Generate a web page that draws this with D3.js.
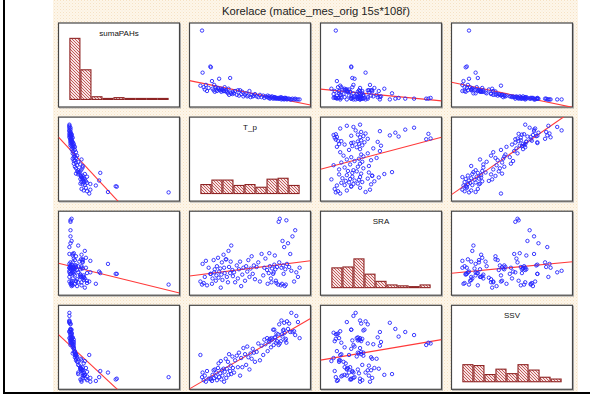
<!DOCTYPE html>
<html><head><meta charset="utf-8">
<script src="https://cdn.jsdelivr.net/npm/d3@7"></script>
<style>html,body{margin:0;padding:0;background:#fff;} svg{display:block;}</style>
</head><body>
<svg id="c" width="590" height="394"></svg>
<script>
const title = "Korelace (matice_mes_orig 15s*108ř)";
const varNames = ["sumaPAHs", "T_p", "SRA", "SSV"];

const sumaPAHs = [18,90,35,16,13,19,11,15,43,42,
  24,14,12,19,10,16,13,11,15,13,27,12,14,10,12,
  13,11,11,16,10.5,12,10,8,14,6,28,9,8,7,10,
  8,11,6,12,5,12,7,10,4,
  6,8,4,5,11,3,6,4,5,7,
  4,3,6,3,5,2,4,
  3,5,2,4,1,3,2,4,1,3,2,3,1,2,2,1,
  2,1,1,2,3,0,1,2,1,1,0,2,1,2,1,0,1,
  1,0,0,1,0,1,0,0,0];

const T_p = [0,1.5,2,3,4,5,6,7.5,9,9.5,
  10.5,11,12,12.5,13,14,14.5,15,16,16.5,17,18,18.5,19,19.5,
  20,21,21.5,22,23,23.5,24,25,25.5,26,27,27.5,28,29,29.5,
  30.5,31.5,33,34,35,36,37,38,39,
  40.5,41.5,42.5,43.5,44.5,45.5,46.5,47.5,48.5,49.5,
  51,52.5,54,55.5,57,58,59,
  60.5,61,62,62.5,63,64,64.5,65,66,66.5,67,67.5,68,68.5,69,69.5,
  70.5,71,71.5,72,73,73.5,74,74.5,75,75.5,76,76.5,77,77.5,78,78.5,79.5,
  80.5,81.5,82.5,83.5,85,86,87,88.5,90];

const SRA = [8,4,31,6,14,35,3,26,18,18,
  5,12,36,20,24,9,16,28,39,13,21,25,0,17,33,
  10,43,26,19,37,37,14,7,48,27,19,34,55,23,15,
  20,7,29,12,24,34,2,17,26,
  9,28,21,36,14,25,41,18,29,11,
  27,33,8,44,16,26,38,
  23,5,19,45,28,12,7,25,18,20,30,42,24,9,6,27,
  4,86,33,90,3,26,5,61,29,18,53,2,24,4,88,31,58,
  27,44,22,67,8,75,20,14,26];

const SSV = [35,6,12,2,8,0,14,4,4,3,
  1,9,15,5,16,7,12,2,18,24,6,11,27,3,15,
  8,17,0,13,30,5,17,26,9,36,14,21,10,33,18,
  12,28,34,19,38,8,31,19,44,
  36,22,46,32,16,37,30,43,38,26,
  39,50,28,47,35,55,49,
  57,40,54,52,56,45,57,55,68,48,68,58,58,51,63,53,
  62,48,75,50,53,80,62,59,67,68,77,64,54,56,51,79,69,
  76,65,90,65,66,61,86,78,57];

const nBins = 9;
const series = [sumaPAHs, T_p, SRA, SSV];
const N = sumaPAHs.length;

const svg = d3.select("#c");
const defs = svg.append("defs");

const bg = defs.append("pattern").attr("id","bgdots").attr("patternUnits","userSpaceOnUse")
  .attr("width",3).attr("height",3);
bg.append("rect").attr("width",3).attr("height",3).attr("fill","#fdf6ea");
bg.append("rect").attr("x",0).attr("y",0).attr("width",1).attr("height",1).attr("fill","#f6e2c4");
bg.append("rect").attr("x",1.5).attr("y",1.5).attr("width",1).attr("height",1).attr("fill","#f9ead4");

const hatch = defs.append("pattern").attr("id","hatch").attr("patternUnits","userSpaceOnUse")
  .attr("width",3).attr("height",3);
hatch.append("rect").attr("width",3).attr("height",3).attr("fill","#f6e4e4");
hatch.append("path").attr("d","M0,0L3,3M-1,2L1,4M2,-1L4,1")
  .attr("stroke","#c45a5a").attr("stroke-width",1);

svg.append("rect").attr("x",53).attr("y",0).attr("width",525).attr("height",392).attr("fill","url(#bgdots)");

svg.append("rect").attr("x",3).attr("y",0).attr("width",2).attr("height",394).attr("fill","#000");
svg.append("rect").attr("x",3).attr("y",392).attr("width",587).attr("height",2).attr("fill","#000");

svg.append("text").attr("x",316).attr("y",15).attr("text-anchor","middle")
  .attr("font-family","'Liberation Sans', Arial, sans-serif").attr("font-size",11.2)
  .attr("fill","#222").text(title);

const colBand = d3.scaleBand().domain(d3.range(4)).range([58.5, 572.5]).paddingInner(10/131);
const rowBand = d3.scaleBand().domain(d3.range(4)).range([23, 389.3]).paddingInner(10.1/94.1);
const pw = colBand.bandwidth(), ph = rowBand.bandwidth();

const extents = series.map(s => d3.extent(s));
const xScale = j => d3.scaleLinear().domain(extents[j])
  .range([colBand(j) + 0.09*pw, colBand(j) + 0.91*pw]);
const yScale = i => d3.scaleLinear().domain(extents[i])
  .range([rowBand(i) + ph - 0.09*ph, rowBand(i) + 0.09*ph]);

function regression(xs, ys) {
  const mx = d3.mean(xs), my = d3.mean(ys);
  let sxy = 0, sxx = 0;
  for (let k = 0; k < xs.length; k++) { sxy += (xs[k]-mx)*(ys[k]-my); sxx += (xs[k]-mx)**2; }
  const b = sxy/sxx;
  return {a: my - b*mx, b};
}

for (let i = 0; i < 4; i++) {
  for (let j = 0; j < 4; j++) {
    const x0 = colBand(j), y0 = rowBand(i);
    const g = svg.append("g");
    const clipId = `clip-${i}-${j}`;
    defs.append("clipPath").attr("id", clipId).append("rect")
      .attr("x", x0).attr("y", y0).attr("width", pw).attr("height", ph);
    g.append("rect").attr("x", x0+1).attr("y", y0+1).attr("width", pw).attr("height", ph)
      .attr("fill","none").attr("stroke","#b0b0b0").attr("stroke-width",1);
    g.append("rect").attr("x", x0).attr("y", y0).attr("width", pw).attr("height", ph)
      .attr("fill","#fff").attr("stroke","#454545").attr("stroke-width",1.2);
    const inner = g.append("g").attr("clip-path", `url(#${clipId})`);
    const xs = xScale(j);
    if (i === j) {
      const [mn, mx] = extents[j];
      const thresholds = d3.range(1, nBins).map(k => mn + k*(mx-mn)/nBins);
      const bins = d3.bin().domain([mn, mx]).thresholds(thresholds)(series[j]);
      const base = yScale(i)(mn);
      const hScale = d3.scaleLinear().domain([0, N]).range([0, 97]);
      inner.selectAll("rect.bar").data(bins).join("rect").attr("class","bar")
        .attr("x", d => xs(d.x0) + 0.5)
        .attr("width", d => Math.max(0, xs(d.x1) - xs(d.x0) - 1))
        .attr("y", d => base - Math.max(1, hScale(d.length)))
        .attr("height", d => Math.max(1, hScale(d.length)))
        .attr("fill","url(#hatch)").attr("stroke","#8e2424").attr("stroke-width",1.1);
      g.append("text").attr("x", x0 + pw/2).attr("y", y0 + 13).attr("text-anchor","middle")
        .attr("font-family","'Liberation Sans', Arial, sans-serif").attr("font-size",8)
        .attr("fill","#111").text(varNames[j]);
    } else {
      const ys = yScale(i);
      const pts = d3.range(N).map(k => [series[j][k], series[i][k]]);
      const {a, b} = regression(series[j], series[i]);
      const xl = xs.invert(x0), xr = xs.invert(x0 + pw);
      inner.append("line")
        .attr("x1", xs(xl)).attr("y1", ys(a + b*xl))
        .attr("x2", xs(xr)).attr("y2", ys(a + b*xr))
        .attr("stroke","#ff3a3a").attr("stroke-width",1.1);
      inner.selectAll("circle").data(pts).join("circle")
        .attr("cx", d => xs(d[0])).attr("cy", d => ys(d[1])).attr("r", 1.7)
        .attr("fill","none").attr("stroke","#2626ff").attr("stroke-width",0.9);
    }
  }
}
</script>
</body></html>
